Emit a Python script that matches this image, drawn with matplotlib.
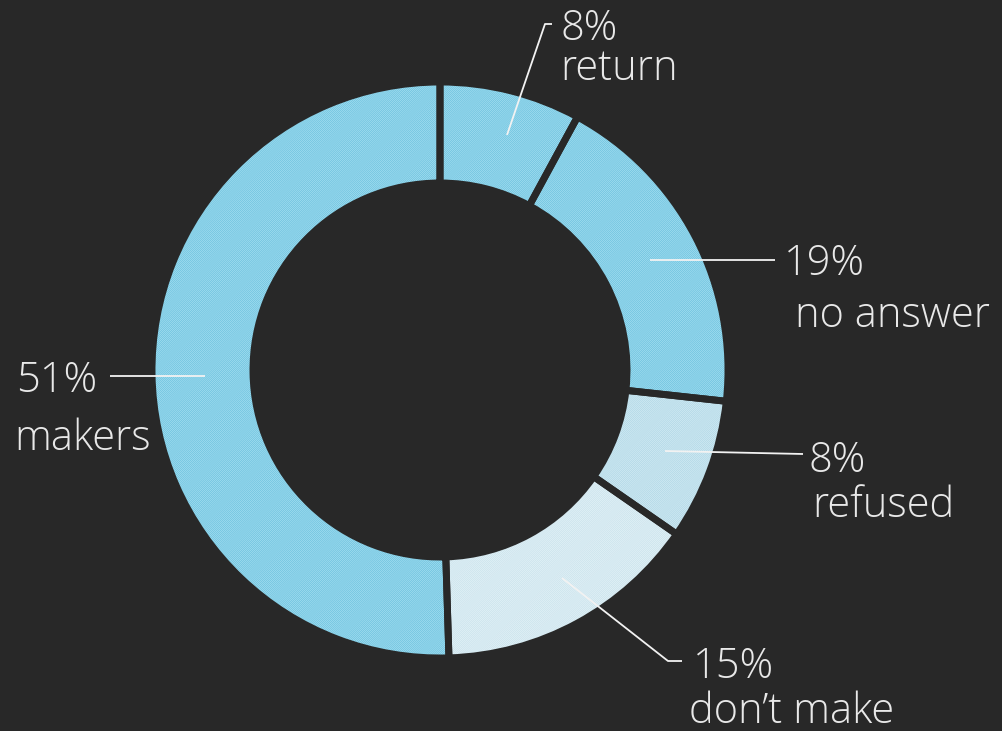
import matplotlib.pyplot as plt

labels = ['return', 'no answer', 'refused', 'don\u2019t make', 'makers']
values = [8, 19, 8, 15, 51]
face_colors = ['#b0e6f6', '#b0e6f6', '#d9eff7', '#e8f5fa', '#b0e6f6']
stripe_colors = ['#6fc2de', '#6fc2de', '#b2d8e6', '#cbe3ec', '#6fc2de']

# leader line points, then (x, baseline) of the percent and of the name, image pixels
leaders = [
    [(507, 135), (545, 24), (552, 24)],
    [(650, 260), (775, 260)],
    [(665, 451), (803, 454)],
    [(562, 578), (668, 661), (682, 661)],
    [(205, 376), (110, 376)],
]
pct_pos = [(561, 40), (784, 275), (809, 472), (693, 678), (16, 392)]
name_pos = [(560, 80), (795, 327), (812, 517), (689, 723), (14, 450)]

bg = '#282828'
W, H = 1002, 731
plt.rcParams['font.family'] = ['Open Sans', 'DejaVu Sans']
plt.rcParams['hatch.linewidth'] = 0.6

fig = plt.figure(figsize=(W / 100, H / 100), dpi=100, facecolor=bg)
ax = fig.add_axes([0, 0, 1, 1])
ax.set_facecolor(bg)

cx, cy, r_out, r_in = 440, H - 370, 288, 187
common = dict(startangle=90, counterclock=False, center=(cx, cy), radius=r_out)

ax.pie(values, colors=face_colors, frame=True,
       wedgeprops=dict(width=r_out - r_in, linewidth=0), **common)
hatched, _ = ax.pie(values, frame=True,
                    wedgeprops=dict(width=r_out - r_in, linewidth=0, fill=False), **common)
for w, c in zip(hatched, stripe_colors):
    w.set_edgecolor(c)
    w.set_hatch('/' * 17)
    w.set_linewidth(0)
ax.pie(values, frame=True,
       wedgeprops=dict(width=r_out - r_in, linewidth=5, edgecolor=bg, fill=False), **common)
ax.set_xlim(0, W)
ax.set_ylim(0, H)
ax.set_aspect('equal')
ax.axis('off')

for lab, v, pts, (px, py), (nx, ny) in zip(labels, values, leaders, pct_pos, name_pos):
    ax.plot([p[0] for p in pts], [H - p[1] for p in pts],
            color='#f2f2f2', lw=1.3, solid_capstyle='butt', zorder=5)
    ax.text(px, H - py, f'{v}%', color='#e8e8e8', fontsize=30, fontweight='light',
            va='baseline', ha='left')
    ax.text(nx, H - ny, lab, color='#e8e8e8', fontsize=30, fontweight='light',
            va='baseline', ha='left')

fig.savefig('out.png', dpi=100, facecolor=bg)
